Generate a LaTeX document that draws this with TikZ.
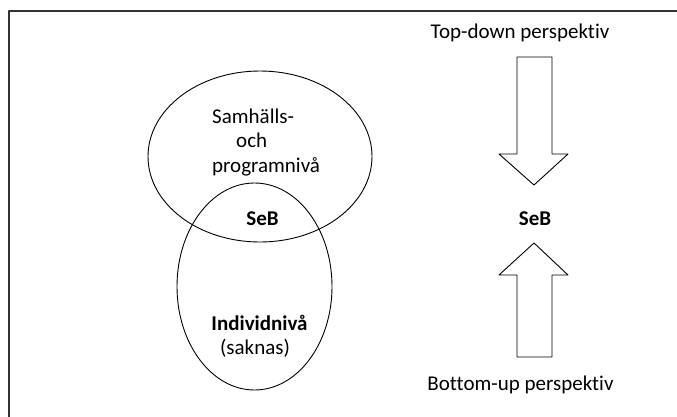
\documentclass[tikz,border=0pt]{standalone}
\usepackage{fontspec}
\setmainfont[Ligatures=NoCommon]{Carlito}
\usetikzlibrary{shapes.geometric}
\begin{document}
\begin{tikzpicture}[x=1pt,y=-1pt,line join=round,
		font=\fontsize{21}{25}\selectfont,
		level/.style={draw,ellipse,line width=0.9pt,inner sep=0pt},
		blockarrow/.style={draw,line width=0.9pt,fill=white},
		lbl/.style={inner sep=0pt,anchor=base}]
	\useasboundingbox (0,0) rectangle (677,416);
	\draw[line width=2pt,black!80] (9,430)--(9,10.5)--(690,10.5);
	\node[level,minimum width=224pt,minimum height=171pt] (samh) at (260,156.5) {};
	\node[level,minimum width=155pt,minimum height=207pt] (indiv) at (254.5,286.5) {};
	\node[lbl,anchor=base west] (samh1) at (212,123) {Samhälls-};
	\node[lbl,anchor=base west] (samh2) at (236,147) {och};
	\node[lbl,anchor=base west] (samh3) at (212,172) {programnivå};
	\node[lbl] (sebl) at (262.5,225) {\textbf{SeB}};
	\node[lbl] (indiv1) at (259.5,330) {\textbf{Individnivå}};
	\node[lbl] (indiv2) at (255,354) {(saknas)};
	\node[lbl] (topdown) at (520,38) {Top-down perspektiv};
	\node[lbl] (sebr) at (535,225) {\textbf{SeB}};
	\node[lbl] (bottomup) at (520.5,390) {Bottom-up perspektiv};
	\draw[blockarrow] (517,57)--(552,57)--(552,154)--(568,154)--(534,185)--(499,154)--(517,154)--cycle;
	\draw[blockarrow] (517,357)--(552,357)--(552,275)--(568,275)--(534,243)--(499,275)--(517,275)--cycle;
\end{tikzpicture}
\end{document}
